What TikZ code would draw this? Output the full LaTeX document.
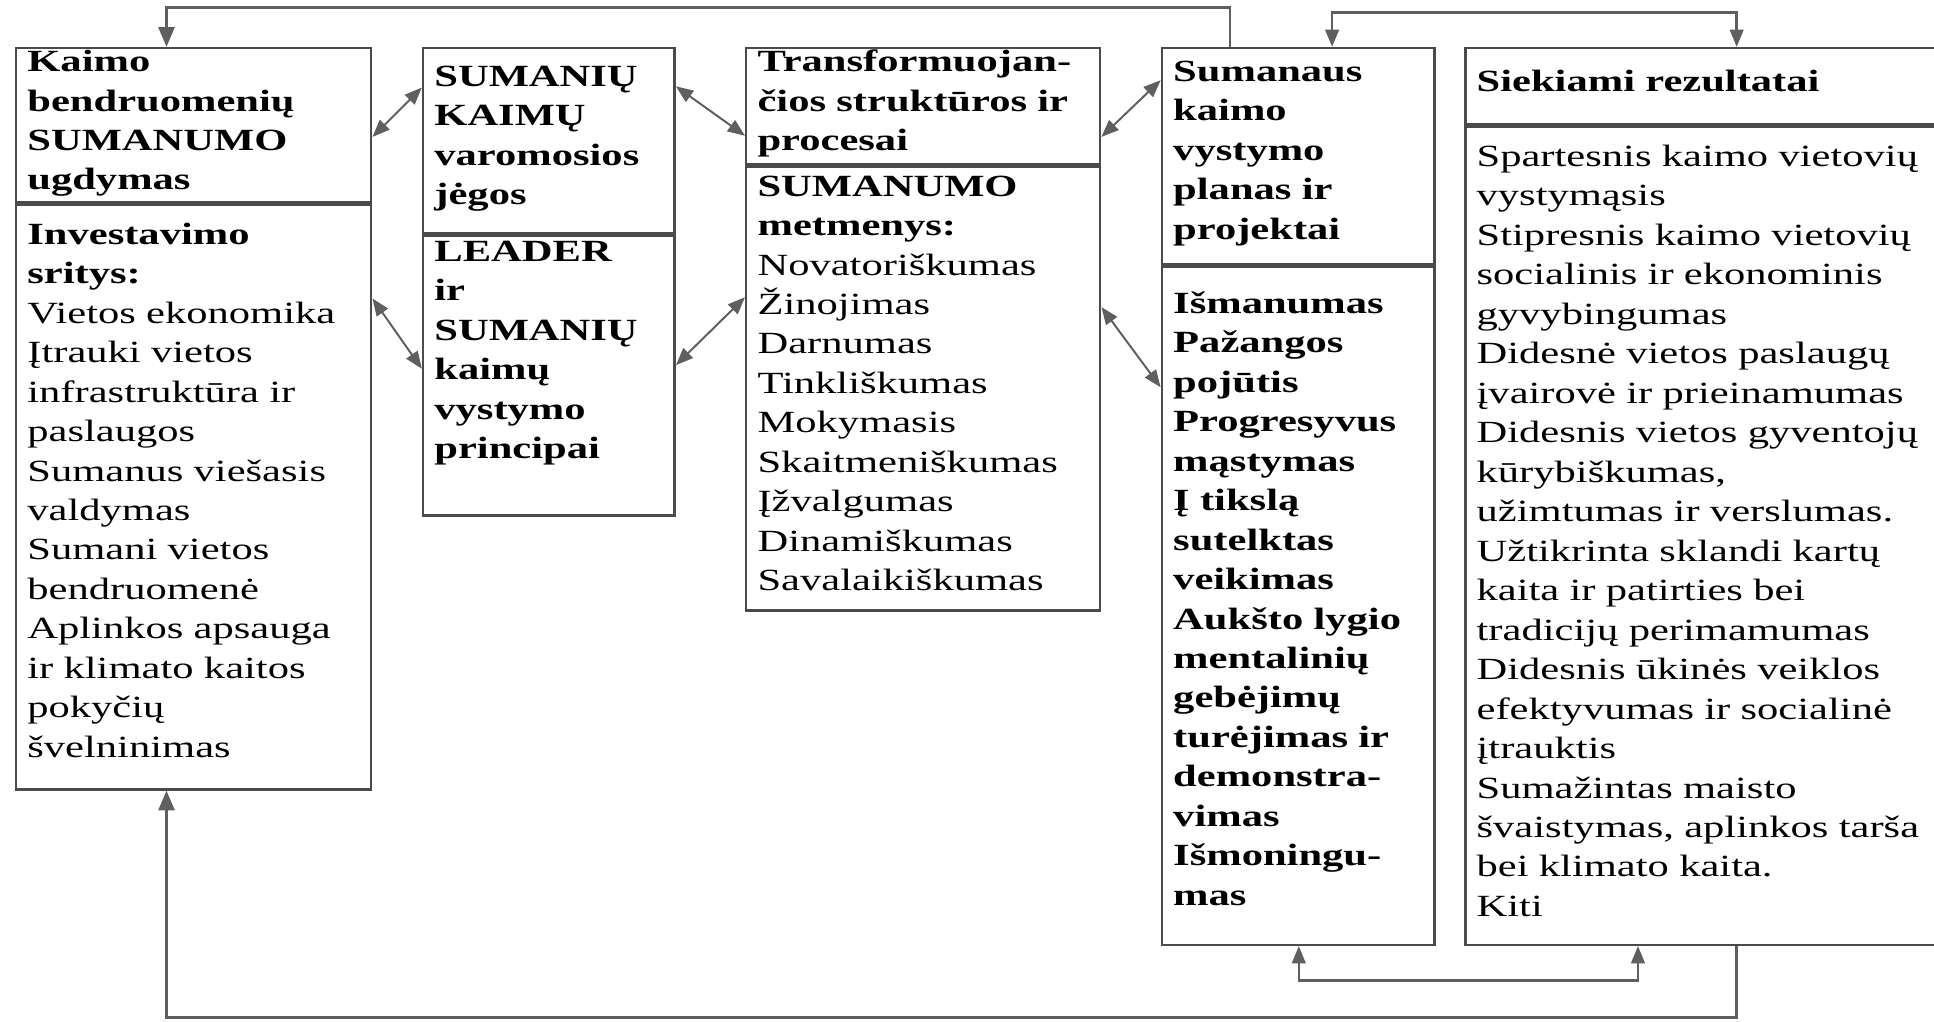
\documentclass[tikz,border=0pt]{standalone}
\usepackage{fontspec}
\setmainfont{Liberation Serif}[FakeStretch=1.38]
\usetikzlibrary{positioning, arrows.meta}

\definecolor{linegray}{RGB}{75,75,75}
\definecolor{wiregray}{RGB}{95,95,95}

\tikzstyle{part} = [rectangle, draw=linegray, line width=2pt, inner sep=0pt, anchor=north west]
\tikzstyle{txt} = [anchor=base west, align=left, inner sep=0pt, font=\fontsize{25}{32}\selectfont]
\tikzstyle{arrow} = [line width=2pt, draw=wiregray, -{Triangle[length=16pt,width=13pt]}]
\tikzstyle{dblarrow} = [line width=1.6pt, draw=wiregray, {Triangle[length=14pt,width=11pt]}-{Triangle[length=14pt,width=11pt]}]

\begin{document}
\begin{tikzpicture}[x=1pt, y=-1pt]
\useasboundingbox (0,0) rectangle (1568,828);
\clip (0,0) rectangle (1568,828);

% boxes
\node (ugd) [part, minimum width=288pt, minimum height=125pt] at (12,38) {};
\node (invest) [part, minimum width=288pt, minimum height=474pt, below=0pt of ugd] {};
\node (jegos) [part, minimum width=204pt, minimum height=150pt] at (342,38) {};
\node (princ) [part, minimum width=204pt, minimum height=227pt, below=0pt of jegos] {};
\node (transf) [part, minimum width=287pt, minimum height=94pt] at (604,38) {};
\node (metm) [part, minimum width=287pt, minimum height=360pt, below=0pt of transf] {};
\node (planas) [part, minimum width=221pt, minimum height=175pt] at (941,38) {};
\node (savyb) [part, minimum width=221pt, minimum height=550pt, below=0pt of planas] {};
\node (rez) [part, minimum width=390pt, minimum height=62pt] at (1187,38) {};
\node (rezlist) [part, minimum width=390pt, minimum height=663pt, below=0pt of rez] {};

% texts
\node (ugdT) [txt, text width=276pt, below right=20pt and 10pt of ugd.north west, anchor=base west]
  {\textbf{Kaimo\\bendruomenių\\SUMANUMO\\ugdymas}};
\node (investT) [txt, text width=276pt, below right=33pt and 10pt of invest.north west, anchor=base west]
  {\textbf{Investavimo\\sritys:}\\Vietos ekonomika\\Įtrauki vietos\\infrastruktūra ir\\paslaugos\\Sumanus viešasis\\valdymas\\Sumani vietos\\bendruomenė\\Aplinkos apsauga\\ir klimato kaitos\\pokyčių\\švelninimas};
\node (jegosT) [txt, text width=192pt, below right=32pt and 10pt of jegos.north west, anchor=base west]
  {\textbf{SUMANIŲ\\KAIMŲ\\varomosios\\jėgos}};
\node (princT) [txt, text width=192pt, below right=22pt and 10pt of princ.north west, anchor=base west]
  {\textbf{LEADER\\ir\\SUMANIŲ\\kaimų\\vystymo\\principai}};
\node (transfT) [txt, text width=275pt, below right=20pt and 10pt of transf.north west, anchor=base west]
  {\textbf{Transformuojan-\\čios struktūros ir\\procesai}};
\node (metmT) [txt, text width=275pt, below right=25pt and 10pt of metm.north west, anchor=base west]
  {\textbf{SUMANUMO\\metmenys:}\\Novatoriškumas\\Žinojimas\\Darnumas\\Tinkliškumas\\Mokymasis\\Skaitmeniškumas\\Įžvalgumas\\Dinamiškumas\\Savalaikiškumas};
\node (planasT) [txt, text width=209pt, below right=28pt and 10pt of planas.north west, anchor=base west]
  {\textbf{Sumanaus\\kaimo\\vystymo\\planas ir\\projektai}};
\node (savybT) [txt, text width=209pt, below right=39pt and 10pt of savyb.north west, anchor=base west]
  {\textbf{Išmanumas\\Pažangos\\pojūtis\\Progresyvus\\mąstymas\\Į tikslą\\sutelktas\\veikimas\\Aukšto lygio\\mentalinių\\gebėjimų\\turėjimas ir\\demonstra-\\vimas\\Išmoningu-\\mas}};
\node (rezT) [txt, text width=375pt, below right=36pt and 10pt of rez.north west, anchor=base west]
  {\textbf{Siekiami rezultatai}};
\node (rezlistT) [txt, text width=375pt, below right=33pt and 10pt of rezlist.north west, anchor=base west]
  {Spartesnis kaimo vietovių\\vystymąsis\\Stipresnis kaimo vietovių\\socialinis ir ekonominis\\gyvybingumas\\Didesnė vietos paslaugų\\įvairovė ir prieinamumas\\Didesnis vietos gyventojų\\kūrybiškumas,\\užimtumas ir verslumas.\\Užtikrinta sklandi kartų\\kaita ir patirties bei\\tradicijų perimamumas\\Didesnis ūkinės veiklos\\efektyvumas ir socialinė\\įtrauktis\\Sumažintas maisto\\švaistymas, aplinkos tarša\\bei klimato kaita.\\Kiti};

% links between neighbouring boxes
\draw [dblarrow] (ugd.east |- 0,111) -- (jegos.west |- 0,71);
\draw [dblarrow] (invest.east |- 0,242) -- (princ.west |- 0,299);
\draw [dblarrow] (jegos.east |- 0,70) -- (transf.west |- 0,110);
\draw [dblarrow] (princ.east |- 0,296) -- (metm.west |- 0,241);
\draw [dblarrow] (transf.east |- 0,111) -- (planas.west |- 0,65);
\draw [dblarrow] (metm.east |- 0,249) -- (savyb.west |- 0,314);

% feedback loops
\draw [arrow] (planas.north -| 997,0) -- (997,6) -| (ugd.north -| 135,0);
\draw [dblarrow, line width=2pt] (planas.north -| 1080,0) -- (1080,10) -| (rez.north -| 1408,0);
\draw [dblarrow, line width=2pt] (savyb.south -| 1053,0) -- (1053,795) -| (rezlist.south -| 1328,0);
\draw [arrow] (rezlist.south -| 1408,0) -- (1408,825) -| (invest.south -| 135,0);

\end{tikzpicture}
\end{document}
